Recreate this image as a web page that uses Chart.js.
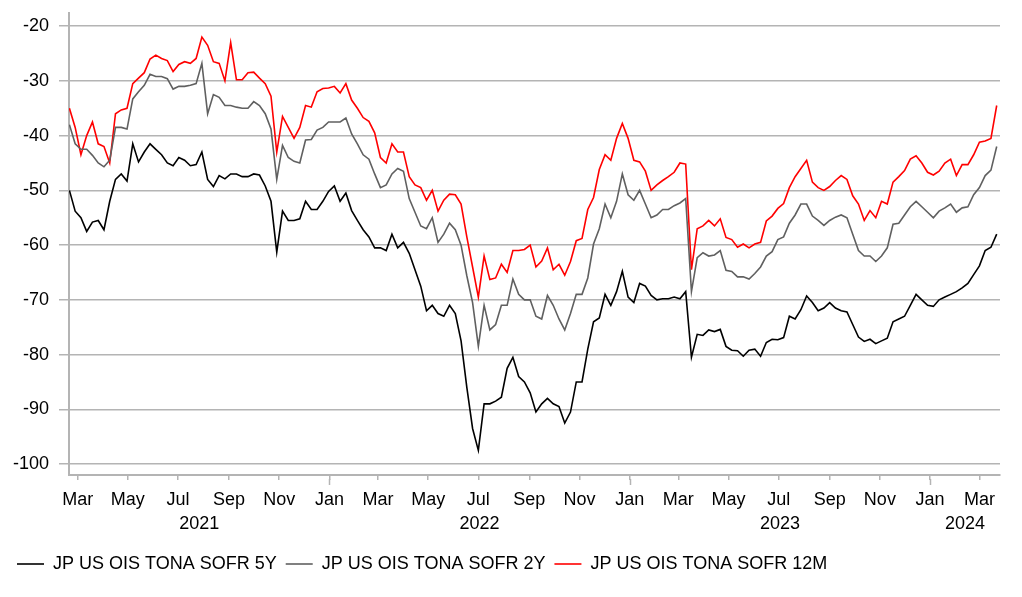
<!DOCTYPE html>
<html>
<head>
<meta charset="utf-8">
<title>JP US OIS TONA SOFR</title>
<script src="https://cdn.jsdelivr.net/npm/chart.js@4.4.1/dist/chart.umd.min.js"></script>
<style>
    html, body { margin: 0; padding: 0; background: #ffffff; }
    #wrap { width: 1022px; height: 597px; }
</style>
</head>
<body>
<div id="wrap"><canvas id="spread-chart" width="1022" height="597"></canvas></div>
<script>
// weekly readings, the first one falls on firstDate
var firstDate = '2021-02-19';
var stepDays = 7;

var series5y = [
    -50.0, -53.8, -55.0, -57.5, -55.8, -55.5, -57.2, -52.0, -48.0, -47.0, -48.3, -41.5, -44.8, -43.0,
    -41.5, -42.5, -43.5, -45.0, -45.5, -44.0, -44.5, -45.5, -45.3, -43.0, -48.0, -49.3, -47.3, -47.9,
    -47.0, -47.0, -47.5, -47.5, -47.0, -47.2, -49.2, -52.0, -61.3, -53.8, -55.5, -55.5, -55.2, -52.0,
    -53.5, -53.5, -52.0, -50.2, -49.2, -52.0, -50.5, -53.7, -55.5, -57.2, -58.5, -60.5, -60.5, -61.0,
    -58.0, -60.5, -59.5, -61.5, -64.5, -67.5, -72.0, -71.0, -72.5, -73.0, -71.0, -72.5, -77.5, -86.0,
    -93.5, -97.5, -89.0, -89.0, -88.5, -87.8, -82.5, -80.5, -84.0, -85.0, -87.0, -90.5, -89.0, -88.0,
    -89.0, -89.5, -92.5, -90.5, -85.0, -85.0, -79.0, -74.0, -73.3, -69.0, -71.0, -68.5, -64.8, -69.5,
    -70.5, -67.0, -67.5, -69.2, -70.0, -69.8, -69.8, -69.5, -69.8, -68.5, -80.5, -76.3, -76.5, -75.5,
    -75.8, -75.4, -78.5, -79.2, -79.3, -80.3, -79.2, -79.0, -80.3, -77.8, -77.2, -77.3, -76.9, -73.0,
    -73.5, -71.8, -69.3, -70.5, -72.0, -71.5, -70.5, -71.5, -72.0, -72.2, -74.5, -76.8, -77.6, -77.2,
    -78.0, -77.5, -77.0, -74.0, -73.5, -73.0, -71.0, -69.0, -70.0, -71.0, -71.2, -70.0, -69.5, -69.0,
    -68.5, -67.8, -67.0, -65.4, -63.8, -61.0, -60.4, -58.0
];

var series2y = [
    -38.0, -41.5, -42.5, -42.5, -43.6, -45.0, -45.7, -44.5, -38.5, -38.5, -38.8, -33.3, -32.0, -30.8,
    -28.8, -29.2, -29.2, -29.6, -31.5, -31.0, -31.0, -30.8, -30.5, -26.8, -36.0, -32.5, -33.0, -34.5,
    -34.5, -34.8, -35.0, -35.0, -33.8, -34.5, -36.0, -38.8, -48.0, -41.8, -44.0, -44.7, -45.0, -40.8,
    -40.7, -39.0, -38.5, -37.5, -37.5, -37.5, -36.8, -39.7, -41.5, -43.5, -44.3, -47.0, -49.5, -49.0,
    -47.0, -46.0, -46.5, -51.5, -54.0, -56.5, -57.0, -55.0, -59.5, -58.0, -56.0, -57.2, -60.0, -65.6,
    -70.5, -78.5, -71.0, -75.5, -74.5, -71.0, -71.0, -66.2, -69.0, -70.0, -70.0, -73.0, -73.5, -69.2,
    -71.0, -73.5, -75.5, -72.5, -69.0, -69.0, -66.0, -59.8, -57.0, -52.5, -55.0, -52.0, -47.0, -50.8,
    -51.8, -50.0, -52.5, -55.0, -54.5, -53.5, -53.5, -52.8, -52.3, -51.5, -68.5, -62.3, -61.4, -62.0,
    -61.8, -61.0, -64.6, -64.8, -65.8, -65.8, -66.2, -65.2, -64.0, -62.0, -61.2, -59.0, -58.5, -56.0,
    -54.5, -52.5, -52.5, -54.7, -55.5, -56.4, -55.5, -54.9, -54.5, -55.0, -58.0, -61.0, -62.0, -62.0,
    -63.0, -62.0, -60.5, -56.2, -56.0, -54.5, -53.0, -52.0, -53.0, -54.0, -55.0, -53.8, -53.2, -52.5,
    -54.0, -53.2, -53.0, -50.8, -49.5, -47.3, -46.3, -42.0
];

var series12m = [
    -35.0, -38.5, -43.5, -40.0, -37.5, -41.5, -42.0, -45.0, -36.0, -35.3, -35.0, -30.5, -29.5, -28.5,
    -26.0, -25.3, -25.9, -26.3, -28.3, -27.0, -26.5, -26.8, -25.9, -22.0, -23.5, -26.5, -26.8, -30.0,
    -23.0, -29.8, -29.8, -28.5, -28.4, -29.5, -30.5, -32.8, -43.0, -36.5, -38.5, -40.5, -38.5, -34.5,
    -34.8, -32.0, -31.4, -31.3, -31.0, -32.2, -30.5, -33.5, -35.0, -36.7, -37.4, -39.5, -44.0, -45.0,
    -41.5, -43.0, -43.0, -47.5, -49.0, -49.5, -51.8, -50.0, -53.8, -51.8, -50.7, -50.8, -52.5, -58.5,
    -64.0, -69.5, -62.0, -66.3, -66.0, -63.5, -65.0, -61.0, -61.0, -60.8, -60.0, -64.0, -62.9, -60.5,
    -64.5, -63.5, -65.5, -63.0, -59.2, -58.8, -53.5, -51.3, -46.2, -43.5, -44.5, -40.5, -37.8, -40.5,
    -44.5, -44.8, -46.5, -50.0, -49.0, -48.2, -47.5, -46.7, -45.0, -45.2, -64.5, -57.0, -56.5, -55.5,
    -56.5, -55.2, -58.6, -59.0, -60.4, -59.8, -60.5, -59.8, -59.5, -55.6, -54.7, -53.3, -52.4, -49.5,
    -47.5, -46.0, -44.5, -48.5, -49.5, -50.0, -49.3, -48.2, -47.3, -48.0, -51.0, -52.5, -55.5, -53.7,
    -55.0, -52.0, -52.5, -48.5, -47.5, -46.4, -44.3, -43.7, -45.0, -46.7, -47.2, -46.5, -45.0, -44.3,
    -47.3, -45.3, -45.3, -43.5, -41.2, -41.0, -40.5, -34.5
];

var seriesNames = ['JP US OIS TONA SOFR 5Y', 'JP US OIS TONA SOFR 2Y', 'JP US OIS TONA SOFR 12M'];
var seriesColors = ['#000000', '#606060', '#ff0000'];

var tickMonths = [
    '2021-03', '2021-05', '2021-07', '2021-09', '2021-11',
    '2022-01', '2022-03', '2022-05', '2022-07', '2022-09', '2022-11',
    '2023-01', '2023-03', '2023-05', '2023-07', '2023-09', '2023-11',
    '2024-01', '2024-03'
];
var monthNames = ['Jan', 'Feb', 'Mar', 'Apr', 'May', 'Jun', 'Jul', 'Aug', 'Sep', 'Oct', 'Nov', 'Dec'];
var yearLabels = ['2021', '2022', '2023', '2024'];
var yTicks = [-100, -90, -80, -70, -60, -50, -40, -30, -20];

var axisStart = '2021-02-18';
var axisEnd = '2024-03-26';

// days since 2021-01-01, so the x axis can stay a plain linear scale
function dayNum(s) {
    var p = s.split('-');
    var d = p.length > 2 ? +p[2] : 1;
    return (Date.UTC(+p[0], +p[1] - 1, d) - Date.UTC(2021, 0, 1)) / 86400000;
}

function monthOf(day) {
    return new Date(Date.UTC(2021, 0, 1) + day * 86400000).getUTCMonth();
}

function toPoints(values) {
    var start = dayNum(firstDate);
    return values.map(function(v, i) {
        return { x: start + i * stepDays, y: v };
    });
}

var xMin = dayNum(axisStart) + 0.5;
var xMax = dayNum(axisEnd);
var gridColor = '#b4b4b4';
var font = { family: '"Liberation Sans", Arial, sans-serif', size: 18 };

// the January marks are longer than the other month marks
var yearTicks = {
    id: 'yearTicks',
    afterDraw: function(chart) {
        var sc = chart.scales.x;
        var ctx = chart.ctx;
        ctx.save();
        ctx.strokeStyle = gridColor;
        ctx.lineWidth = 1.5;
        sc.ticks.forEach(function(t) {
            if (t.label !== 'Jan') return;
            var px = Math.round(sc.getPixelForValue(t.value)) + 0.5;
            ctx.beginPath();
            ctx.moveTo(px, sc.top + 4);
            ctx.lineTo(px, sc.top + 10);
            ctx.stroke();
        });
        ctx.restore();
    }
};

var datasets = [series5y, series2y, series12m].map(function(values, i) {
    return {
        label: seriesNames[i],
        data: toPoints(values),
        borderColor: seriesColors[i],
        backgroundColor: seriesColors[i],
        borderWidth: 1.6,
        pointRadius: 0,
        tension: 0,
        fill: false
    };
});

var ctx = document.getElementById('spread-chart').getContext('2d');
new Chart(ctx, {
    type: 'line',
    data: { datasets: datasets },
    plugins: [yearTicks],
    options: {
        responsive: false,
        animation: false,
        devicePixelRatio: 1,
        layout: { padding: { left: 8, right: 22, top: 13, bottom: 14 } },
        plugins: {
            tooltip: { enabled: false },
            title: { display: false },
            legend: {
                position: 'bottom',
                align: 'start',
                labels: {
                    usePointStyle: true,
                    pointStyle: 'line',
                    pointStyleWidth: 27,
                    padding: 9,
                    color: '#000000',
                    font: font
                }
            }
        },
        scales: {
            x: {
                type: 'linear',
                position: 'bottom',
                min: xMin,
                max: xMax,
                bounds: 'data',
                grid: {
                    drawOnChartArea: false,
                    drawTicks: true,
                    tickLength: 5,
                    color: gridColor,
                    lineWidth: 1.5
                },
                border: { display: true, color: gridColor, width: 2 },
                ticks: {
                    autoSkip: false,
                    maxRotation: 0,
                    padding: 9,
                    color: '#000000',
                    font: font,
                    callback: function(value) {
                        return monthNames[monthOf(value)];
                    }
                },
                afterBuildTicks: function(scale) {
                    scale.ticks = tickMonths.map(function(m) {
                        return { value: dayNum(m) };
                    });
                },
                afterFit: function(scale) {
                    scale.height = 36;
                }
            },
            years: {
                type: 'linear',
                position: 'bottom',
                weight: 1,
                min: xMin,
                max: xMax,
                bounds: 'data',
                grid: { display: false, drawTicks: false, tickLength: 0 },
                border: { display: false },
                ticks: {
                    autoSkip: false,
                    maxRotation: 0,
                    padding: 2,
                    color: '#000000',
                    font: font,
                    callback: function(value, index) {
                        return yearLabels[index];
                    }
                },
                afterBuildTicks: function(scale) {
                    scale.ticks = yearLabels.map(function(y) {
                        var a = Math.max(xMin, dayNum(y + '-01-01'));
                        var b = Math.min(xMax, dayNum((+y + 1) + '-01-01'));
                        return { value: (a + b) / 2 };
                    });
                },
                afterFit: function(scale) {
                    scale.height = 35;
                }
            },
            y: {
                type: 'linear',
                min: -102,
                max: -17.6,
                bounds: 'data',
                grid: {
                    drawTicks: true,
                    tickLength: 10,
                    color: gridColor,
                    lineWidth: 1.5
                },
                border: { display: true, color: gridColor, width: 2 },
                ticks: {
                    padding: 10,
                    color: '#000000',
                    font: font
                },
                afterBuildTicks: function(scale) {
                    scale.ticks = yTicks.map(function(v) {
                        return { value: v };
                    });
                },
                afterFit: function(scale) {
                    scale.width = 61;
                    // no extra room for half a label above and below
                    scale.paddingTop = 0;
                    scale.paddingBottom = 0;
                }
            }
        }
    }
});
</script>
</body>
</html>
